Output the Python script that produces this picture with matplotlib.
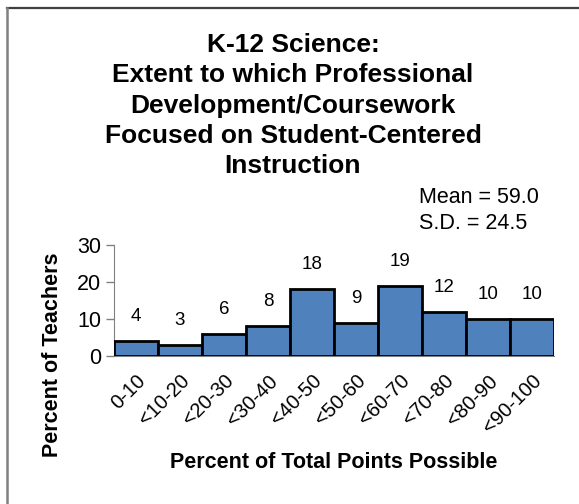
import matplotlib.pyplot as plt
from matplotlib.lines import Line2D

plt.rcParams['font.family'] = ['Liberation Sans', 'DejaVu Sans']

# histogram of scores
categories = ["0-10", "<10-20", "<20-30", "<30-40", "<40-50",
              "<50-60", "<60-70", "<70-80", "<80-90", "<90-100"]
percents = [4, 3, 6, 8, 18, 9, 19, 12, 10, 10]
y_ticks = [0, 10, 20, 30]

title = ("K-12 Science:\nExtent to which Professional\nDevelopment/Coursework\n"
         "Focused on Student-Centered\nInstruction")
stats_text = "Mean = 59.0\nS.D. = 24.5"

W, H = 579, 504
fig = plt.figure(figsize=(W / 100, H / 100), dpi=100)

# axes box in pixels: left 114, right 554, y=0 at 356, y=30 at 245
ax = fig.add_axes([114 / W, 1 - 356 / H, (554 - 114) / W, (356 - 245) / H])

x = list(range(len(categories)))
ax.bar(x, percents, width=1.0, color="#4F81BD", edgecolor="black",
       linewidth=2, zorder=3)
for xi, v in zip(x, percents):
    ax.text(xi, v + 4.3, str(v), ha="center", va="bottom", fontsize=13.5)

ax.set_xlim(-0.5, len(categories) - 0.5)
ax.set_ylim(0, 30)
ax.set_yticks(y_ticks)
ax.tick_params(axis="y", labelsize=15.5, length=6, width=1, color="#808080", pad=3)
ax.set_xticks(x)
ax.set_xticklabels(categories, rotation=45, ha="right", rotation_mode="anchor",
                   fontsize=14.5)
ax.tick_params(axis="x", length=0, pad=11)
ax.spines["top"].set_visible(False)
ax.spines["right"].set_visible(False)
ax.spines["left"].set_color("#808080")
ax.spines["bottom"].set_color("#808080")

fig.text(0.506, 1 - 33 / H, title, ha="center", va="top", fontsize=19,
         fontweight="bold", linespacing=1.33)

fig.text(419 / W, 1 - 187 / H, stats_text, ha="left", va="top", fontsize=15.5,
         linespacing=1.3)

fig.text(53 / W, 1 - 355 / H, "Percent of Teachers", rotation=90, ha="center",
         va="center", fontsize=15.5, fontweight="bold")
fig.text(334 / W, 1 - 462 / H, "Percent of Total Points Possible", ha="center",
         va="center", fontsize=15.5, fontweight="bold")

# frame lines (top and left only visible)
fig.add_artist(Line2D([7 / W, 1], [1 - 7.5 / H, 1 - 7.5 / H], color="#404040",
                      linewidth=1.6, transform=fig.transFigure))
fig.add_artist(Line2D([7 / W, 7 / W], [0, 1 - 7.5 / H], color="#808080",
                      linewidth=1.8, transform=fig.transFigure))

fig.savefig("out.png", dpi=100)
